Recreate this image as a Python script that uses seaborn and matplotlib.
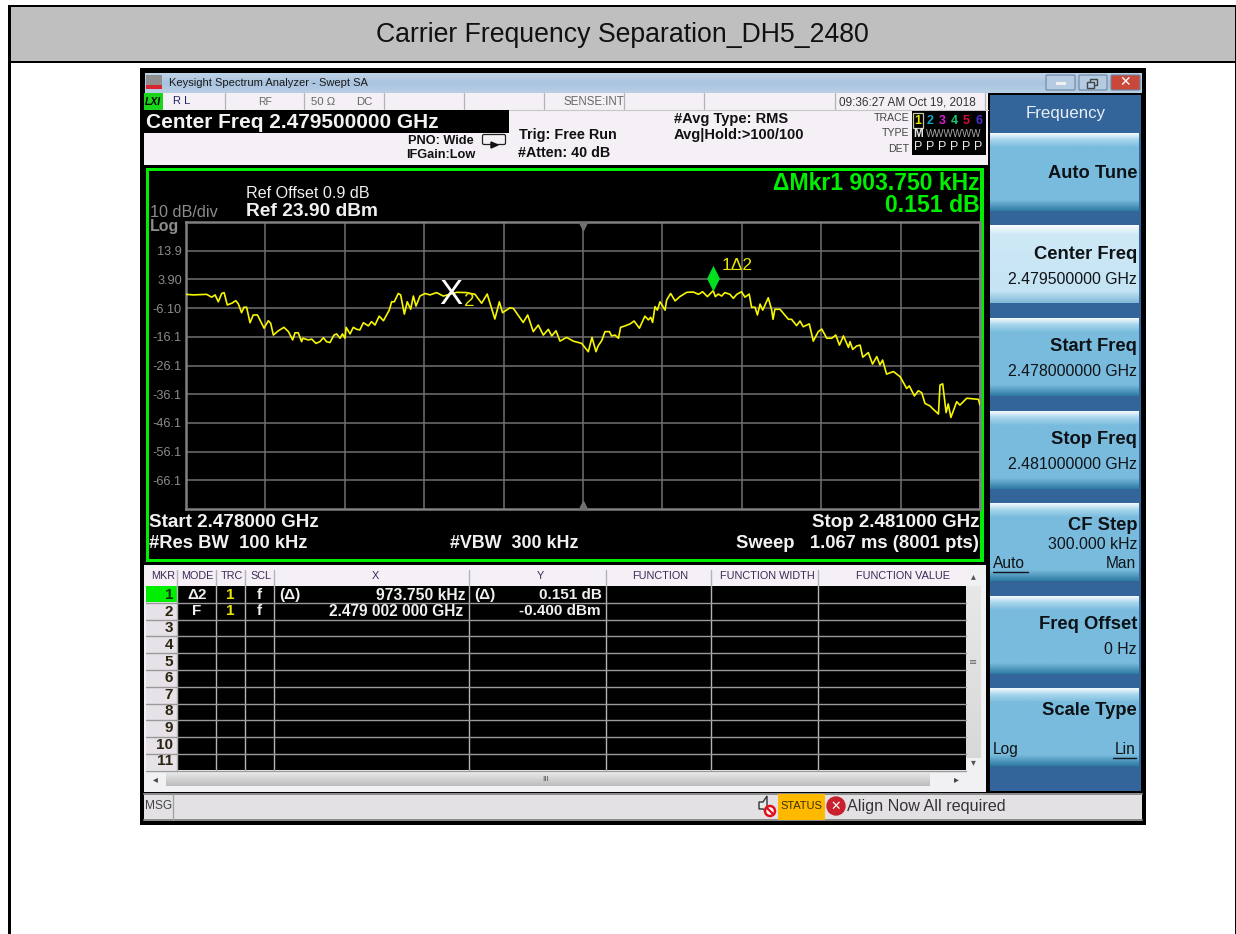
import numpy as np
import pandas as pd
import seaborn as sns
import matplotlib.pyplot as plt
from matplotlib.colors import LinearSegmentedColormap
from matplotlib.patches import Rectangle, Polygon, Circle, FancyBboxPatch
from matplotlib.path import Path

# trace values, freq is MHz above the 2.478 GHz start
freq_mhz = [0.000, .028, .053, .078, .097, .110, .122, .135, .144, .156, .173, .188, .198, .210, .219, .229,
            .242, .254, .270, .295, .311, .320, .330, .349, .370, .387, .403, .412, .424, .437, .441, .462,
            .475, .491, .506, .519, .531, .544, .559, .569, .582, .591, .601, .605, .620, .632, .645, .657,
            .670, .689, .701, .714, .730, .746, .768, .777, .787, .802, .811, .825, .836, .849, .859, .869,
            .884, .903, .922, .947, .972, .997, 1.023, 1.060, 1.092, 1.117, 1.138, 1.167, 1.184, 1.196,
            1.224, 1.237, 1.274, 1.291, 1.312, 1.331, 1.350, 1.369, 1.382, 1.398, 1.413, 1.438, 1.463,
            1.495, 1.520, 1.534, 1.549, 1.557, 1.571, 1.583, 1.600, 1.608, 1.621, 1.634, 1.642, 1.659,
            1.678, 1.693, 1.713, 1.734, 1.747, 1.756, 1.763, 1.772, 1.781, 1.791, 1.810, 1.816, 1.831,
            1.848, 1.866, 1.892, 1.917, 1.936, 1.952, 1.970, 1.992, 2.000, 2.011, 2.024, 2.036, 2.055,
            2.068, 2.081, 2.099, 2.112, 2.128, 2.137, 2.150, 2.159, 2.169, 2.179, 2.200, 2.213, 2.218,
            2.225, 2.244, 2.276, 2.288, 2.307, 2.320, 2.332, 2.355, 2.370, 2.389, 2.402, 2.421, 2.440,
            2.455, 2.469, 2.484, 2.503, 2.509, 2.519, 2.534, 2.547, 2.557, 2.578, 2.594, 2.610, 2.622,
            2.632, 2.647, 2.673, 2.698, 2.723, 2.733, 2.752, 2.767, 2.780, 2.792, 2.811, 2.824, 2.843,
            2.849, 2.859, 2.872, 2.880, 2.890, 2.912, 2.924, 2.950, 2.994, 3.000]
level_dbm = [-1.3, -1.5, -1.4, -1.3, -2.3, -1.5, -3.9, -1.0, -0.7, -5.0, -4.4, -3.5, -4.7, -7.7, -5.8, -5.8,
             -11.2, -8.5, -8.5, -13.1, -10.5, -11.4, -15.5, -14.0, -12.8, -14.3, -17.2, -14.7, -14.7, -17.8,
             -16.6, -17.2, -16.9, -18.4, -17.8, -16.4, -17.8, -18.1, -15.5, -15.1, -16.6, -15.1, -16.6, -12.8,
             -15.1, -12.8, -13.5, -13.7, -11.2, -12.3, -10.8, -12.0, -8.9, -10.5, -6.8, -3.9, -3.9, -1.0,
             -1.5, -8.2, -3.9, -6.5, -1.9, -5.4, -1.9, -1.0, -1.5, -0.7, -1.9, -1.3, -0.6, -0.7, -1.3, -4.4,
             -1.2, -9.9, -3.9, -7.7, -6.0, -6.2, -11.1, -8.5, -14.3, -12.0, -15.5, -13.5, -15.8, -14.0,
             -17.6, -16.3, -17.6, -18.4, -21.3, -16.3, -21.3, -19.3, -17.4, -14.3, -14.3, -15.8, -15.5,
             -16.6, -12.8, -12.3, -11.6, -10.6, -13.1, -8.9, -10.2, -9.3, -11.1, -5.6, -6.8, -3.9, -6.8,
             -3.3, -1.0, -3.6, -2.1, -0.6, -0.5, -1.3, -0.4, -2.1, -0.0, -2.1, -1.2, -1.9, -0.7, -1.3, -2.7,
             -1.3, -0.4, -2.3, -1.2, -5.8, -5.8, -8.5, -4.7, -6.8, -2.5, -6.8, -10.0, -6.5, -6.5, -10.0,
             -10.0, -12.2, -10.6, -12.6, -11.6, -17.6, -14.3, -13.4, -16.6, -16.6, -15.5, -19.0, -15.8,
             -19.8, -17.8, -20.5, -19.3, -19.0, -23.2, -21.6, -25.6, -23.0, -25.9, -24.2, -29.1, -28.2,
             -30.0, -34.1, -33.2, -36.7, -34.9, -35.6, -39.3, -40.2, -41.4, -43.0, -32.9, -32.5, -42.5,
             -39.5, -44.2, -38.7, -39.9, -37.5, -37.9, -39.9]

span_mhz = 3.0
ref_level = 23.9
db_per_div = 10
y_ticks = [13.9, 3.9, -6.1, -16.1, -26.1, -36.1, -46.1, -56.1, -66.1]
y_labels = ['13.9', '3.90', '-6.10', '-16.1', '-26.1', '-36.1', '-46.1', '-56.1', '-66.1']
marker2 = (1.002, -0.4)
marker1 = (1.992, -0.2)

softkey_names = ['Auto Tune', 'Center Freq', 'Start Freq', 'Stop Freq', 'CF Step', 'Freq Offset', 'Scale Type']
softkey_values = [None, '2.479500000 GHz', '2.478000000 GHz', '2.481000000 GHz', '300.000 kHz', '0 Hz', None]
table_names = ['MKR', 'MODE', 'TRC', 'SCL', 'X', 'Y', 'FUNCTION', 'FUNCTION WIDTH', 'FUNCTION VALUE']

# layout in screen pixels
softkey_tops = [133, 225, 318, 411, 503, 596, 688]
softkey_name_dy = [39, 28, 27, 27, 21, 27, 21]
softkey_value_dy = [0, 53, 52, 52, 40, 52, 0]
table_x = [163, 197, 232, 261, 375, 540, 660, 767, 903]
col_lines = [177, 216, 245, 274, 469, 606, 711, 818]

sns.set_theme(style='white')
plt.rcParams['font.family'] = ['Liberation Sans', 'DejaVu Sans']

W, H = 1236, 934
GREEN = '#00ee00'
fig = plt.figure(figsize=(W / 100, H / 100), dpi=100, facecolor='white')
bg = fig.add_axes([0, 0, 1, 1])
bg.set_xlim(0, W)
bg.set_ylim(H, 0)
bg.axis('off')


def box(x0, y0, x1, y1, color, z=1, **kw):
    bg.add_patch(Rectangle((x0, y0), x1 - x0, y1 - y0, facecolor=color, edgecolor='none', zorder=z, **kw))


def grad(x0, y0, x1, y1, stops, z=2):
    # vertical gradient, stops are (fraction, colour)
    cm = LinearSegmentedColormap.from_list('g', stops)
    bg.imshow(np.linspace(0, 1, 128)[:, None], cmap=cm, extent=(x0, x1, y1, y0), aspect='auto', zorder=z,
              vmin=0, vmax=1, interpolation='bilinear')
    bg.set_xlim(0, W)
    bg.set_ylim(H, 0)


def label(x, y, s, size=10, color='black', weight='normal', ha='left', z=6, **kw):
    # va center sits about a pixel high here
    bg.text(x, y + 1.2, s, fontsize=size, color=color, fontweight=weight, ha=ha, va='center', zorder=z, **kw)


# page frame and header
box(8, 5, W, 63, 'black')
box(11, 7, W - 1, 61, '#bfbfbf')
box(8, 63, 11, H, 'black')
box(W - 1, 63, W, H, 'black')
label(622, 34, 'Carrier Frequency Separation_DH5_2480', size=19.2, color='#111111', ha='center')

# analyzer window
box(140, 68, 1146, 825, 'black')
grad(145, 73, 1142, 93, [(0, '#bfd4e8'), (0.5, '#a9c3de'), (1, '#b9cfe6')])
box(146, 75, 162, 89, '#8f8f8f', z=3)
box(146, 85, 162, 89, '#d8262c', z=4)
label(169, 82, 'Keysight Spectrum Analyzer - Swept SA', size=8, color='#1a1a1a')
for x0, x1, col in [(1046, 1075, '#b4cbe2'), (1079, 1107, '#b4cbe2'), (1111, 1140, '#c9483a')]:
    bg.add_patch(FancyBboxPatch((x0 + 1, 76), x1 - x0 - 2, 13, boxstyle='round,pad=1', facecolor=col,
                                edgecolor='#6d86a0', linewidth=0.8, zorder=4))
box(1056, 82, 1066, 85, '#f0f0f0', z=5)
bg.add_patch(Rectangle((1090, 79), 7, 6, fill=False, edgecolor='#444444', linewidth=1, zorder=5))
bg.add_patch(Rectangle((1087, 82), 7, 6, facecolor='#b4cbe2', edgecolor='#444444', linewidth=1, zorder=6))
label(1125, 81, '✕', size=10, color='white', weight='bold', ha='center', family=['DejaVu Sans'])

# status rows
box(144, 93, 988, 165, '#f4f0f6')
box(144, 93, 163, 110, '#19d419', z=2)
label(153, 101, 'LXI', size=7.5, color='black', weight='bold', ha='center', style='italic')
label(173, 100, 'R L', size=8, color='#222266')
for x in [225, 304, 384, 464, 544, 624, 704, 835, 985]:
    bg.plot([x, x], [93, 109], color='#b4b4b4', lw=0.9, zorder=3)
bg.plot([144, 988], [109.5, 109.5], color='#c8c8c8', lw=0.8, zorder=3)
label(258, 101, 'RF', size=7.5, color='#666666')
label(311, 101, '50 Ω', size=8.2, color='#666666')
label(356, 101, 'DC', size=8.2, color='#666666')
label(564, 101, 'SENSE:INT', size=8.3, color='#666666')
label(839, 101, '09:36:27 AM Oct 19, 2018', size=8.5, color='#333333')
box(144, 110, 509, 133, 'black', z=3)
label(146, 121, 'Center Freq 2.479500000 GHz', size=15, color='#f2f2f2', weight='bold')
label(408, 140, 'PNO: Wide', size=9.2, color='#111111', weight='bold')
label(406, 154, 'IFGain:Low', size=9.2, color='#111111', weight='bold')
bg.add_patch(FancyBboxPatch((484, 136), 20, 7, boxstyle='round,pad=1.5', facecolor='#f4f0f6', edgecolor='#222222',
                            linewidth=0.9, zorder=4))
bg.add_patch(Polygon([(491, 142), (491, 148), (498, 145)], color='#111111', zorder=5))
label(519, 134, 'Trig: Free Run', size=10.4, color='#111111', weight='bold')
label(518, 152, '#Atten: 40 dB', size=10.3, color='#111111', weight='bold')
label(674, 118, '#Avg Type: RMS', size=10.5, color='#111111', weight='bold')
label(674, 134, 'Avg|Hold:>100/100', size=10.5, color='#111111', weight='bold')
label(909, 117, 'TRACE', size=7.6, color='#444444', ha='right')
label(909, 132, 'TYPE', size=7.6, color='#444444', ha='right')
label(909, 148, 'DET', size=7.6, color='#444444', ha='right')
box(912, 111, 986, 155, 'black', z=3)
trace_cols = ['#e6e600', '#18a5c8', '#d81fd8', '#19c878', '#d80f3c', '#4a2fd8']
for i, col in enumerate(trace_cols):
    label(918 + i * 12.1, 120, str(i + 1), size=9, color=col, weight='bold', ha='center')
    label(918 + i * 12.1, 146, 'P', size=9, color='#e8e8e8', ha='center')
bg.add_patch(Rectangle((913, 113), 10, 15, fill=False, edgecolor='#c8c8a0', linewidth=0.9, zorder=5))
label(918, 133, 'M', size=8.5, color='#e8e8e8', weight='bold', ha='center')
label(926, 133, 'WWWWWW', size=7, color='#a8a8a8')

# trace panel
box(146, 168, 984, 562, GREEN, z=2)
box(149, 171, 980, 559, 'black', z=3)
label(246, 192, 'Ref Offset 0.9 dB', size=11.6, color='#f0f0f0')
label(246, 210, 'Ref 23.90 dBm', size=13.8, color='#f0f0f0', weight='bold')
label(150, 211, '10 dB/div', size=11.7, color='#8c8c8c')
label(150, 225, 'Log', size=11.5, color='#8c8c8c', weight='bold')
label(980, 182, 'ΔMkr1 903.750 kHz', size=16.6, color=GREEN, weight='bold', ha='right')
label(980, 204, '0.151 dB', size=16.6, color=GREEN, weight='bold', ha='right')
label(149, 521, 'Start 2.478000 GHz', size=13.6, color='#f2f2f2', weight='bold')
label(149, 542, '#Res BW  100 kHz', size=13.2, color='#f2f2f2', weight='bold')
label(450, 542, '#VBW  300 kHz', size=12.9, color='#f2f2f2', weight='bold')
label(979, 521, 'Stop 2.481000 GHz', size=13.5, color='#f2f2f2', weight='bold', ha='right')
label(979, 542, 'Sweep   1.067 ms (8001 pts)', size=13.3, color='#f2f2f2', weight='bold', ha='right')

# the plot itself
px0, px1, py0, py1 = 186, 980, 222, 509
ax = fig.add_axes([px0 / W, 1 - py1 / H, (px1 - px0) / W, (py1 - py0) / H], zorder=5)
df = pd.DataFrame({'freq': freq_mhz, 'level': level_dbm})
sns.lineplot(data=df, x='freq', y='level', ax=ax, color='#f6f600', linewidth=1.2, estimator=None, sort=False, zorder=4)
ax.set_facecolor('black')
ax.set_xlim(0, span_mhz)
ax.set_ylim(ref_level - 10 * db_per_div, ref_level)
ax.set_xticks(np.arange(0.3, span_mhz, 0.3))
ax.set_yticks(y_ticks)
ax.set_yticklabels(y_labels, fontsize=9.2, color='#8c8c8c')
ax.set_xticklabels([])
ax.set_xlabel('')
ax.set_ylabel('')
ax.tick_params(length=0, pad=3)
ax.grid(True, color='#707070', linewidth=1.1)
ax.set_axisbelow(True)
for s in ax.spines.values():
    s.set_color('#808080')
    s.set_linewidth(1.8)
# center freq triangles
ax.plot(span_mhz / 2, ref_level - 1.4, marker='v', color='#707070', ms=6, clip_on=False, zorder=5)
ax.plot(span_mhz / 2, ref_level - 100 + 1.4, marker='^', color='#707070', ms=6, clip_on=False, zorder=5)
# markers
ax.text(marker2[0], marker2[1] - 1.1, 'X', fontsize=25, color='white', ha='center', va='center', zorder=6)
ax.text(marker2[0] + 0.05, marker2[1] - 3.4, '2', fontsize=13.5, color='#e6e600', ha='left', va='center', zorder=5)
tip = Path([(0, 0), (-0.5, 1), (0, 2), (0.5, 1), (0, 0)], closed=True)
ax.plot(marker1[0], marker1[1], marker=tip, ms=37, color='#00e020', mew=0, zorder=6, clip_on=False)
ax.text(marker1[0] + 0.03, marker1[1] + 8.9, '1Δ2', fontsize=12.5, color='#e6e600', ha='left', va='center', zorder=6)

# marker table
box(144, 565, 986, 792, '#f1f0f3', z=2)
box(146, 568, 966, 586, '#f4f0f6', z=3)
box(146, 586, 966, 770, 'black', z=3)
box(146, 586, 177, 770, '#e6e2e8', z=4)
box(146, 586, 177, 602, GREEN, z=5)
for name, x in zip(table_names, table_x):
    label(x, 575, name, size=7.8, color='#3c2a55', ha='center')
for x in col_lines:
    bg.plot([x, x], [570, 770], color='#b4b4b4', lw=1.0, zorder=5)
for i in range(1, 12):
    y = 586 + i * 16.8
    bg.plot([146, 966], [y, y], color='#9a9a9a', lw=1.0, zorder=5)
    label(173, 594 + (i - 1) * 16.6, str(i), size=11, color='#2a2410' if i > 1 else '#103010', weight='bold', ha='right')
label(197, 594, 'Δ2', size=11, color='#f0f0f0', weight='bold', ha='center')
label(197, 610, 'F', size=11, color='#f0f0f0', weight='bold', ha='center')
label(230, 594, '1', size=11, color='#e6e600', weight='bold', ha='center')
label(230, 610, '1', size=11, color='#e6e600', weight='bold', ha='center')
label(259, 594, 'f', size=11, color='#f0f0f0', weight='bold', ha='center')
label(259, 610, 'f', size=11, color='#f0f0f0', weight='bold', ha='center')
label(279, 594, '(Δ)', size=11, color='#f0f0f0', weight='bold')
label(474, 594, '(Δ)', size=11, color='#f0f0f0', weight='bold')
label(466, 594, '973.750 kHz', size=11.3, color='#f0f0f0', weight='bold', ha='right')
label(463, 610, '2.479 002 000 GHz', size=11.2, color='#f0f0f0', weight='bold', ha='right')
label(602, 594, '0.151 dB', size=11, color='#f0f0f0', weight='bold', ha='right')
label(601, 610, '-0.400 dBm', size=11, color='#f0f0f0', weight='bold', ha='right')
# scrollbars
grad(966, 586, 981, 758, [(0, '#e8e8e8'), (1, '#d8d8d8')], z=3)
label(973, 575, '▴', size=7, color='#555555', ha='center', family=['DejaVu Sans'])
label(973, 761, '▾', size=7, color='#555555', ha='center', family=['DejaVu Sans'])
label(973, 661, '≡', size=7, color='#666666', ha='center', family=['DejaVu Sans'])
grad(166, 773, 930, 786, [(0, '#e6e6e6'), (1, '#bcbcbc')], z=3)
label(155, 778, '◂', size=7, color='#444444', ha='center', family=['DejaVu Sans'])
label(956, 778, '▸', size=7, color='#444444', ha='center', family=['DejaVu Sans'])
label(546, 778, 'III', size=6, color='#555555', ha='center')

# message bar
box(144, 793, 1142, 821, '#e4e1e5', z=2)
bg.plot([144, 1142], [794, 794], color='#8a8a8a', lw=1.4, zorder=3)
bg.plot([144, 1142], [820, 820], color='#8a8a8a', lw=1.4, zorder=3)
bg.plot([173, 173], [794, 820], color='#a0a0a0', lw=0.9, zorder=3)
label(145, 805, 'MSG', size=8.6, color='#444444')
box(778, 794, 825, 820, '#ffba00', z=3)
label(801.5, 805, 'STATUS', size=8, color='#3a3000', ha='center')
bg.add_patch(Polygon([(759, 802), (763, 802), (767, 796), (767, 811), (763, 809), (759, 809)], facecolor='#e8e8e8',
                     edgecolor='#333333', linewidth=1, zorder=4))
bg.add_patch(Circle((770, 811), 5, facecolor='white', edgecolor='#e0101c', linewidth=1.8, zorder=5))
bg.plot([767, 773], [808, 814], color='#e0101c', lw=1.6, zorder=6)
bg.add_patch(Circle((836, 806), 9, color='#c8202c', zorder=4))
label(836, 805, '✕', size=9, color='white', weight='bold', ha='center', family=['DejaVu Sans'])
label(847, 805, 'Align Now All required', size=11.6, color='#333333')

# softkey column
box(990, 95, 1141, 791, '#33659b', z=2)
label(1066, 112, 'Frequency', size=12.2, color='#e8f0f6', ha='center')
normal = [(0, '#f4fafd'), (0.08, '#a8d6ec'), (0.18, '#79bbdd'), (0.86, '#79bbdd'), (1, '#2e7ba3')]
bright = [(0, '#f8fcff'), (0.12, '#cfe9f6'), (0.85, '#c4e3f3'), (1, '#7fbad8')]
for name, value, top, ndy, vdy in zip(softkey_names, softkey_values, softkey_tops, softkey_name_dy, softkey_value_dy):
    grad(990, top, 1139, top + 78, bright if name == 'Center Freq' else normal, z=3)
    label(1137, top + ndy, name, size=13.2, color='#0d1216', weight='bold', ha='right')
    if value:
        label(1137, top + vdy, value, size=11.4, color='#101418', ha='right')
label(1136, 562, 'Man', size=11.2, color='#101418', ha='right')
label(993, 562, 'Auto', size=11.2, color='#101418')
bg.plot([993, 1028], [571.5, 571.5], color='#101418', lw=1, zorder=6)
label(993, 748, 'Log', size=11.2, color='#101418')
label(1136, 748, 'Lin', size=11.2, color='#101418', ha='right')
bg.plot([1113, 1136], [757.5, 757.5], color='#101418', lw=1, zorder=6)

fig.savefig('out.png', dpi=100)
